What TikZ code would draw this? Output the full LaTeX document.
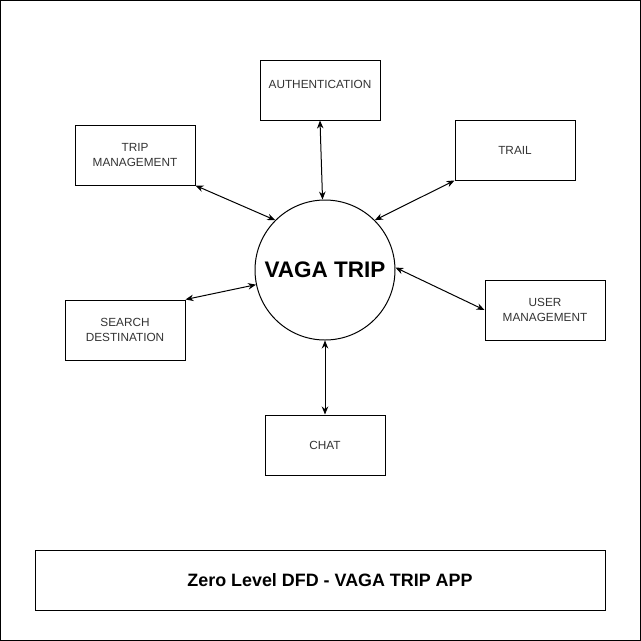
\documentclass[tikz,border=0pt]{standalone}
\usepackage{fontspec}
\setmainfont{Liberation Sans}
\usetikzlibrary{arrows.meta}
\begin{document}
\begin{tikzpicture}[x=1pt,y=-1pt,
  boxfont/.style={font=\fontsize{11.8}{14.5}\selectfont,text=black!80},
  proc/.style={draw,line width=1pt,minimum width=120pt,minimum height=60pt,inner sep=0pt,align=center,boxfont},
  flow/.style={line width=1pt,{Stealth[length=8pt,width=6.5pt]}-{Stealth[length=8pt,width=6.5pt]}}]
\useasboundingbox (0,0) rectangle (641,641);
\draw[line width=1pt] (0.5,0.5) rectangle (640.5,640.5);
\node[draw,circle,line width=1pt,minimum size=140pt,inner sep=0pt,font=\fontsize{22.5}{26}\bfseries] (vaga) at (325,270) {VAGA TRIP};
\node[proc,label={[boxfont,yshift=6pt]center:AUTHENTICATION}] (auth) at (320,90) {};
\node[proc] (trip) at (135,155) {TRIP\\MANAGEMENT};
\node[proc] (trail) at (515,150) {TRAIL};
\node[proc] (search) at (125,330) {SEARCH\\DESTINATION};
\node[proc] (user) at (545,310) {USER\\MANAGEMENT};
\node[proc] (chat) at (325,445) {CHAT};
\node[draw,line width=1pt,minimum width=570pt,minimum height=60pt,inner sep=0pt,label={[font=\fontsize{17.9}{21}\bfseries,xshift=10pt]center:Zero Level DFD - VAGA TRIP APP}] (title) at (320,580) {};
\draw[flow] (auth.south) -- (vaga.92);
\draw[flow] (trip.south east) -- (vaga.135);
\draw[flow] (trail.south west) -- (vaga.45);
\draw[flow] (search.north east) -- (vaga.192);
\draw[flow] (user.west) -- (vaga.2);
\draw[flow] (chat.north) -- (vaga.south);
\end{tikzpicture}
\end{document}
